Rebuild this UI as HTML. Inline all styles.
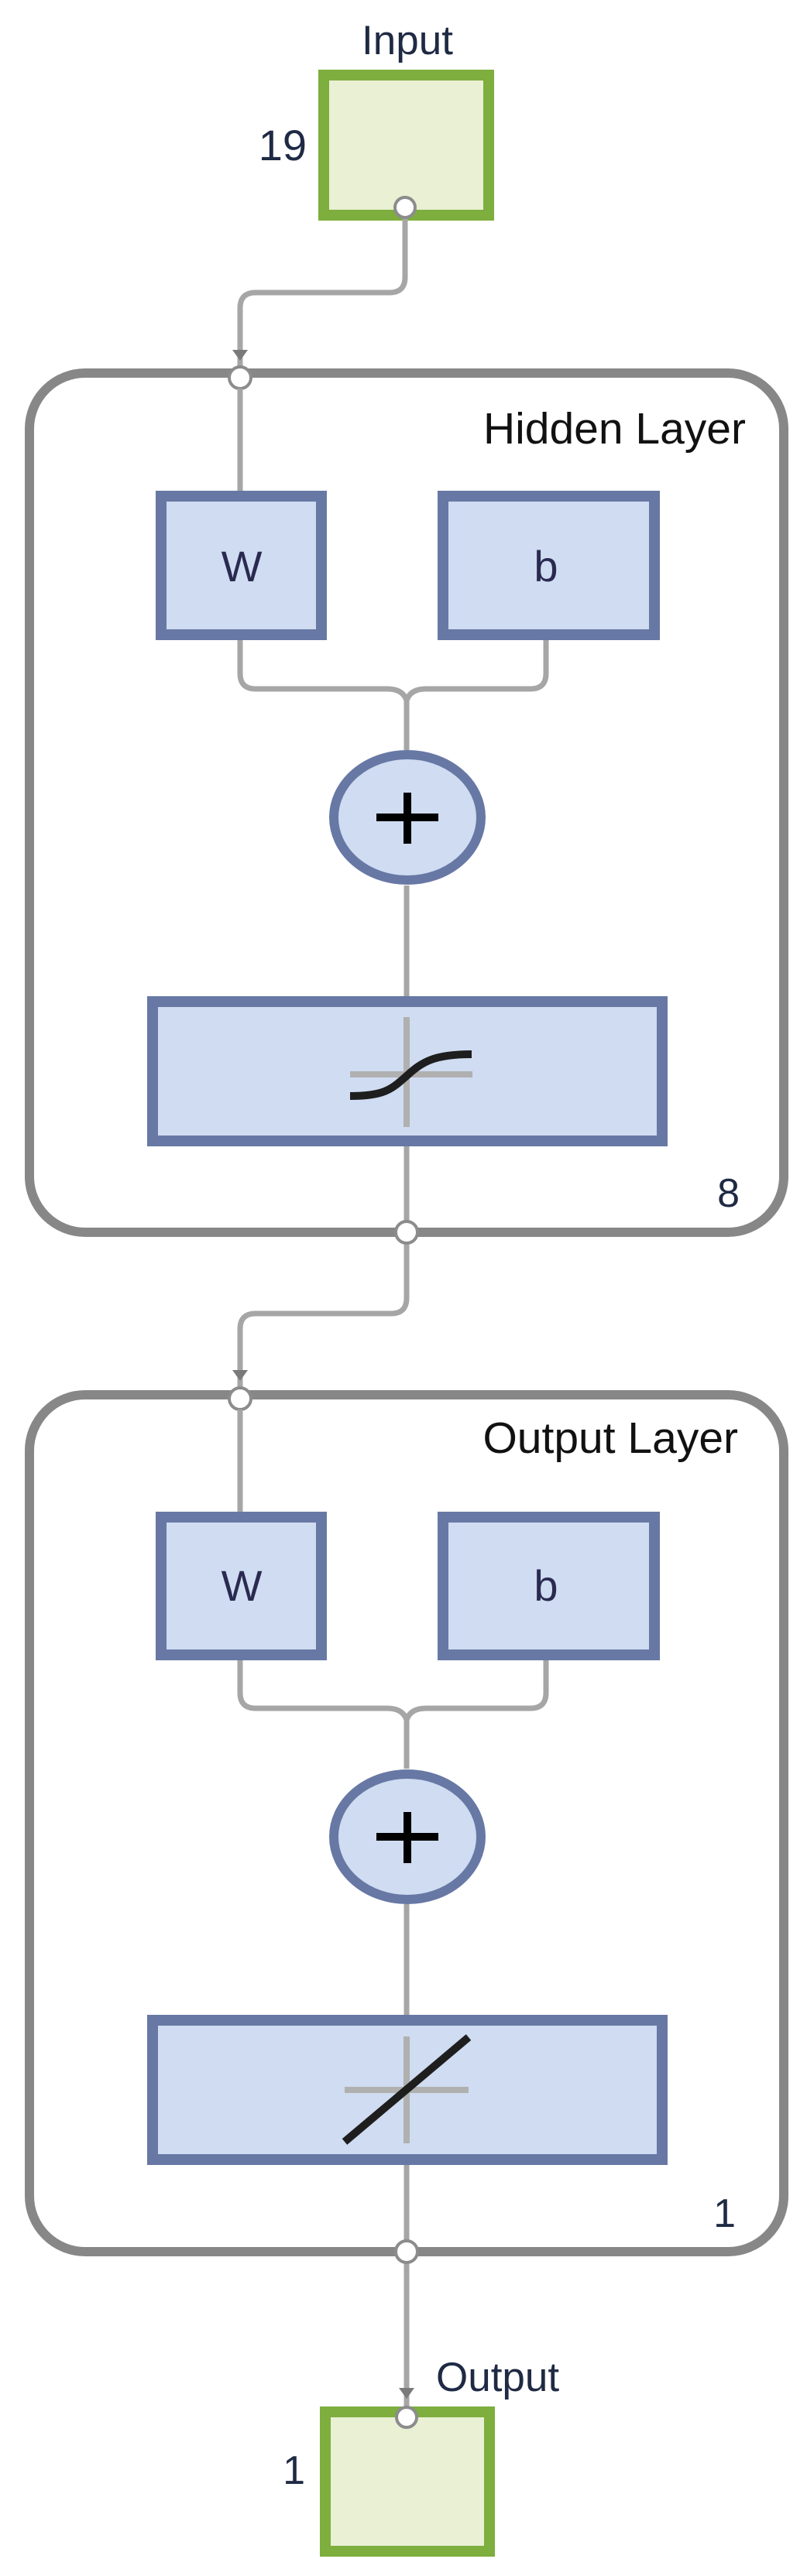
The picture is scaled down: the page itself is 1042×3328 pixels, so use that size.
<!DOCTYPE html>
<html><head><meta charset="utf-8"><style>
html,body{margin:0;padding:0;background:#fff;}
svg{display:block;}
text{font-family:"Liberation Sans",Arial,sans-serif;}
</style></head><body>
<svg width="1042" height="3328" viewBox="0 0 1042 3328" xmlns="http://www.w3.org/2000/svg">
<!-- Input -->
<text x="526" y="70" font-size="53" text-anchor="middle" fill="#1f2a44">Input</text>
<text x="396" y="207" font-size="56" text-anchor="end" fill="#1f2a44">19</text>
<rect x="418" y="97" width="213" height="181" fill="#e9f0d3" stroke="#7dae3e" stroke-width="14"/>

<!-- connector input -> hidden -->
<path d="M523 268 V358 Q523 378 503 378 H330 Q310 378 310 398 V488" fill="none" stroke="#a6a6a6" stroke-width="7"/>

<!-- Hidden layer box -->
<rect x="38" y="482" width="974" height="1110" rx="72" fill="none" stroke="#878787" stroke-width="12"/>
<text x="963" y="573" font-size="57" text-anchor="end" fill="#111">Hidden Layer</text>
<polygon points="300,452 320,452 310,466" fill="#7a7a7a"/>
<circle cx="310" cy="488" r="14" fill="#fff" stroke="#8c8c8c" stroke-width="4"/>
<circle cx="523" cy="268" r="13" fill="#fff" stroke="#8c8c8c" stroke-width="4"/>

<!-- hidden internal connectors -->
<path d="M310 502 V634" stroke="#a6a6a6" stroke-width="7" fill="none"/>
<path d="M310 827 V870 Q310 890 330 890 H500 Q520 890 525 905 Q530 890 550 890 H685 Q705 890 705 870 V827" fill="none" stroke="#a6a6a6" stroke-width="7"/>
<path d="M525 905 V969" stroke="#a6a6a6" stroke-width="7"/>
<path d="M525 1144 V1287" stroke="#a6a6a6" stroke-width="7"/>
<path d="M525 1481 V1592" stroke="#a6a6a6" stroke-width="7"/>

<rect x="208" y="641" width="207" height="179" fill="#cfdcf1" stroke="#6878a5" stroke-width="14"/>
<text x="312" y="751" font-size="56" text-anchor="middle" fill="#2a2a50">W</text>
<rect x="572" y="641" width="273" height="179" fill="#cfdcf1" stroke="#6878a5" stroke-width="14"/>
<text x="705" y="751" font-size="56" text-anchor="middle" fill="#2a2a50">b</text>

<ellipse cx="526" cy="1056" rx="95" ry="81" fill="#cfdcf1" stroke="#6878a5" stroke-width="12"/>
<rect x="486" y="1051" width="80" height="10" fill="#000"/>
<rect x="521" y="1024" width="10" height="66" fill="#000"/>

<rect x="197" y="1294" width="658" height="180" fill="#cfdcf1" stroke="#6878a5" stroke-width="14"/>
<rect x="452" y="1384" width="158" height="8" fill="#b0b0b0"/>
<rect x="521" y="1314" width="8" height="142" fill="#b0b0b0"/>
<path d="M452 1416 C495 1416 505 1408 525 1390 C545 1372 560 1362 609 1362" fill="none" stroke="#1e1e1e" stroke-width="10"/>
<text x="955" y="1559" font-size="52" text-anchor="end" fill="#1f2a44">8</text>

<!-- connector hidden -> output -->
<path d="M525 1592 V1677 Q525 1697 505 1697 H330 Q310 1697 310 1717 V1808" fill="none" stroke="#a6a6a6" stroke-width="7"/>

<!-- Output layer box -->
<rect x="38" y="1802" width="974" height="1107" rx="72" fill="none" stroke="#878787" stroke-width="12"/>
<text x="953" y="1877" font-size="57" text-anchor="end" fill="#111">Output Layer</text>
<polygon points="300,1770 320,1770 310,1784" fill="#7a7a7a"/>
<circle cx="310" cy="1807" r="14" fill="#fff" stroke="#8c8c8c" stroke-width="4"/>
<circle cx="525" cy="1592" r="14" fill="#fff" stroke="#8c8c8c" stroke-width="4"/>

<path d="M310 1821 V1953" stroke="#a6a6a6" stroke-width="7" fill="none"/>
<path d="M310 2145 V2187 Q310 2207 330 2207 H500 Q520 2207 525 2222 Q530 2207 550 2207 H685 Q705 2207 705 2187 V2145" fill="none" stroke="#a6a6a6" stroke-width="7"/>
<path d="M525 2222 V2285" stroke="#a6a6a6" stroke-width="7"/>
<path d="M525 2460 V2603" stroke="#a6a6a6" stroke-width="7"/>
<path d="M525 2797 V3110" stroke="#a6a6a6" stroke-width="7"/>

<rect x="208" y="1960" width="207" height="178" fill="#cfdcf1" stroke="#6878a5" stroke-width="14"/>
<text x="312" y="2068" font-size="56" text-anchor="middle" fill="#2a2a50">W</text>
<rect x="572" y="1960" width="273" height="178" fill="#cfdcf1" stroke="#6878a5" stroke-width="14"/>
<text x="705" y="2068" font-size="56" text-anchor="middle" fill="#2a2a50">b</text>

<ellipse cx="526" cy="2373" rx="95" ry="81" fill="#cfdcf1" stroke="#6878a5" stroke-width="12"/>
<rect x="486" y="2368" width="80" height="10" fill="#000"/>
<rect x="521" y="2341" width="10" height="66" fill="#000"/>

<rect x="197" y="2610" width="658" height="180" fill="#cfdcf1" stroke="#6878a5" stroke-width="14"/>
<rect x="445" y="2696" width="160" height="8" fill="#b0b0b0"/>
<rect x="521" y="2631" width="8" height="138" fill="#b0b0b0"/>
<line x1="445" y1="2767" x2="605" y2="2632" stroke="#1e1e1e" stroke-width="10"/>
<text x="950" y="2877" font-size="52" text-anchor="end" fill="#1f2a44">1</text>

<circle cx="525" cy="2909" r="14" fill="#fff" stroke="#8c8c8c" stroke-width="4"/>

<!-- Output -->
<text x="563" y="3089" font-size="53" fill="#1f2a44">Output</text>
<polygon points="515,3085 535,3085 525,3099" fill="#7a7a7a"/>
<rect x="420" y="3116" width="212" height="180" fill="#e9f0d3" stroke="#7dae3e" stroke-width="14"/>
<circle cx="525" cy="3123" r="13" fill="#fff" stroke="#8c8c8c" stroke-width="4"/>
<text x="394" y="3209" font-size="52" text-anchor="end" fill="#1f2a44">1</text>
</svg>
</body></html>
